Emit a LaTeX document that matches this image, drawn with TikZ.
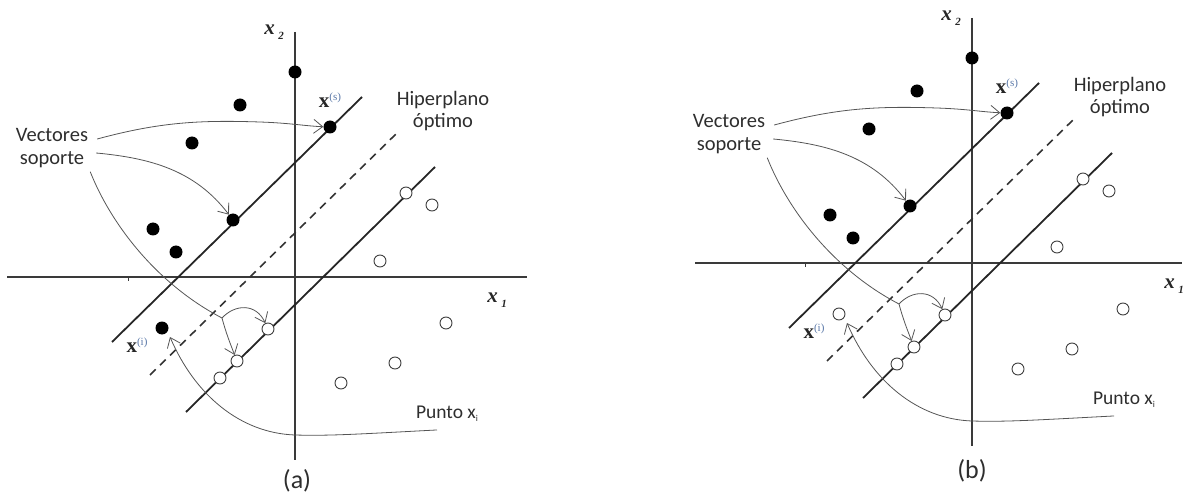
\documentclass[tikz,border=0pt]{standalone}
\usepackage{fontspec}
\setmainfont{Liberation Serif}
\newfontfamily\calfont{Carlito}
\usetikzlibrary{arrows.meta}

\definecolor{axisgray}{HTML}{3A3A3A}
\definecolor{linkgray}{HTML}{555555}
\definecolor{supblue}{HTML}{5A78A8}
\definecolor{textdark}{HTML}{2E2E2E}

\tikzset{
  axisline/.style={line width=1.8pt, draw=axisgray},
  marginline/.style={line width=1.8pt, draw=black!85},
  hyperline/.style={line width=1.6pt, draw=black!80, dash pattern=on 8pt off 6pt},
  linkarrow/.style={line width=0.8pt, draw=linkgray, -{Straight Barb[length=9pt,width=14pt,line width=0.8pt]}},
  linkplain/.style={line width=0.8pt, draw=linkgray},
  blackpt/.style={circle, fill=black, inner sep=0pt, minimum size=13pt},
  whitept/.style={circle, draw=black!75, fill=white, line width=0.9pt, inner sep=0pt, minimum size=12pt},
  lbl/.style={font=\calfont\fontsize{20.5}{22.5}\selectfont, text=textdark, align=center, inner sep=1pt},
  axlbl/.style={font=\fontsize{21}{21}\selectfont\bfseries\itshape, text=black!85, inner sep=0pt},
  veclbl/.style={font=\fontsize{21}{21}\selectfont\bfseries, text=black!85, inner sep=0pt},
  panellbl/.style={font=\calfont\fontsize{26}{26}\selectfont, text=textdark, inner sep=0pt},
}

% #1 prefix, #2 style of x^(i), #3/#4 x1-axis ends
\newcommand\svmpanel[4]{%
  % axes
  \draw[axisline] (295,32) -- (295,460);
  \draw[axisline] (#3,277) -- (#4,277);
  \draw[axisgray, line width=0.8pt] (128,277) -- (128,281);
  \node[axlbl] (#1xtwo) at (274,32) {x\,\raisebox{-5pt}{\fontsize{11}{11}\selectfont 2}};
  \node[axlbl] (#1xone) at (497,300) {x\,\raisebox{-5pt}{\fontsize{11}{11}\selectfont 1}};
  % margins and hyperplane
  \draw[marginline] (112,342) -- (362,97);
  \draw[hyperline] (150,375) -- (398,132);
  \draw[marginline] (186,412) -- (435,167);
  % black points
  \node[blackpt] (#1pA) at (295,72) {};
  \node[blackpt] (#1pB) at (240,105) {};
  \node[blackpt] (#1pC) at (192,143) {};
  \node[blackpt] (#1pD) at (153,229) {};
  \node[blackpt] (#1pE) at (176,252) {};
  \node[blackpt] (#1sv) at (233,220) {};
  \node[blackpt] (#1xs) at (330,127) {};
  \node[#2] (#1xi) at (162,328) {};
  % white points
  \node[whitept] (#1qA) at (406,193) {};
  \node[whitept] (#1qB) at (432,205) {};
  \node[whitept] (#1qC) at (380,261) {};
  \node[whitept] (#1qD) at (446,323) {};
  \node[whitept] (#1qE) at (395,363) {};
  \node[whitept] (#1qF) at (341,383) {};
  \node[whitept] (#1wA) at (268,329) {};
  \node[whitept] (#1wB) at (237,361) {};
  \node[whitept] (#1wC) at (220,378) {};
  % labels
  \node[lbl] (#1vs) at (52,148) {Vectores\\soporte};
  \node[lbl] (#1hp) at (443,111) {Hiperplano\\óptimo};
  \node[lbl, font=\calfont\fontsize{19.5}{21}\selectfont] (#1pt) at (447,414) {Punto x\raisebox{-3pt}{\fontsize{9}{9}\selectfont i}};
  \node[veclbl] (#1xsl) at (330,100) {x\raisebox{7pt}{\fontsize{11}{11}\selectfont\mdseries\color{supblue}(s)}};
  \node[veclbl] (#1xil) at (137,345) {x\raisebox{7pt}{\fontsize{11}{11}\selectfont\mdseries\color{supblue}(i)}};
  % connectors
  \draw[linkarrow] ([shift={(8,-9)}]#1vs.east) .. controls (160,122) and (200,120) .. (260,122)
        .. controls (290,123) and (305,126) .. (#1xs);
  \draw[linkarrow] ([shift={(7,5)}]#1vs.east) .. controls (150,158) and (195,170) .. (#1sv);
  \coordinate (#1j) at (222,318);
  \draw[linkplain] ([shift={(1,3)}]#1vs.south east) .. controls (110,222) and (155,283) .. (#1j);
  \draw[linkarrow] (#1j) .. controls (235,304) and (256,303) .. (#1wA);
  \draw[linkarrow] (#1j) .. controls (226,333) and (230,343) .. (#1wB);
  \draw[linkarrow] ([shift={(-10,7)}]#1pt.south) .. controls (360,434) and (330,436) .. (295,435)
        .. controls (240,433) and (195,395) .. ([shift={(8,9)}]#1xi.center);
}

\begin{document}
\begin{tikzpicture}[x=1pt,y=-1pt]
  \useasboundingbox (0,0) rectangle (1184,497);
  \svmpanel{a}{blackpt}{7}{527}
  \node[panellbl] (la) at (297,481) {(a)};
  \begin{scope}[shift={(677,-14)}]
    \svmpanel{b}{whitept}{18}{505}
  \end{scope}
  \node[panellbl] (lb) at (972,471) {(b)};
\end{tikzpicture}
\end{document}
